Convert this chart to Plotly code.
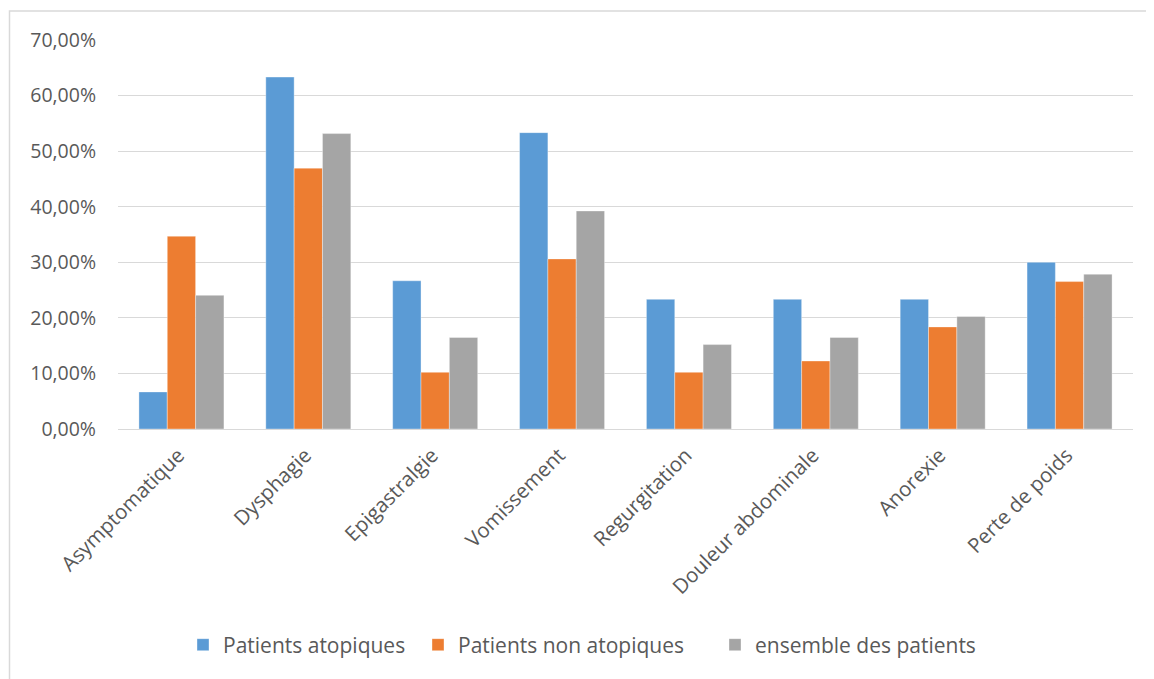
import plotly.graph_objects as go

categories = ["Asymptomatique", "Dysphagie", "Epigastralgie", "Vomissement",
              "Regurgitation", "Douleur abdominale", "Anorexie", "Perte de poids"]
atopiques = [0.0667, 0.6333, 0.2667, 0.5333, 0.2333, 0.2333, 0.2333, 0.3000]
non_atopiques = [0.3469, 0.4694, 0.1020, 0.3061, 0.1020, 0.1224, 0.1837, 0.2653]
ensemble = [0.2405, 0.5316, 0.1646, 0.3924, 0.1519, 0.1646, 0.2025, 0.2785]
series_names = ["Patients atopiques", "Patients non atopiques", "ensemble des patients"]
colors = ["#5B9BD5", "#ED7D31", "#A5A5A5"]

OFF = 8  # page body margin
W, H = 1154, 679
L, T = 118 - OFF, 40 - OFF
R = W - (1133 - OFF)
B = H - (429 - OFF)
pw, ph = W - L - R, H - T - B

legend_ids = ["legend", "legend2", "legend3"]
legend_text_x = [223, 458, 755]  # page x where legend text starts

fig = go.Figure()
for name, vals, col, lg in zip(series_names, [atopiques, non_atopiques, ensemble], colors, legend_ids):
    fig.add_trace(go.Bar(
        x=categories, y=vals, name=name, legend=lg,
        marker=dict(color=col, line=dict(color="rgba(255,255,255,0.6)", width=0.6)),
    ))

font = "Open Sans, Noto Sans, sans-serif"
legend_common = dict(orientation="h", xanchor="left", yanchor="middle",
                     y=-(645 - 429) / ph, font=dict(size=21, color="#595959"),
                     itemwidth=30, bgcolor="rgba(0,0,0,0)")
legends = {}
for lg, tx in zip(legend_ids, legend_text_x):
    legends[lg] = dict(legend_common, x=(tx - 40 - OFF - L) / pw)

fig.update_layout(
    width=W, height=H,
    margin=dict(l=L, r=R, t=T, b=B, autoexpand=False),
    paper_bgcolor="white", plot_bgcolor="white",
    separators=", ",
    barmode="group", bargap=0.33, bargroupgap=0,
    font=dict(family=font, size=18, color="#595959"),
    showlegend=True,
    xaxis=dict(tickangle=-45, showgrid=False, showline=True, linecolor="#D9D9D9",
               linewidth=1.3, ticks="", ticklabelshift=-3, ticklabelstandoff=5,
               tickfont=dict(size=20.5, color="#595959")),
    yaxis=dict(range=[0, 0.7], dtick=0.1, tickformat=".2%", showgrid=True,
               gridcolor="#D9D9D9", gridwidth=1.3, zeroline=False, showline=False,
               ticks="", ticklabelstandoff=21,
               tickfont=dict(size=19.5, color="#595959")),
    shapes=[dict(type="rect", xref="paper", yref="paper",
                 x0=(1.5 - L) / pw, x1=(W + 20 - L) / pw,
                 y0=-(H + 20 - 429) / ph, y1=1 + (40 - 11) / ph,
                 line=dict(color="#D9D9D9", width=1.5), fillcolor="rgba(0,0,0,0)",
                 layer="below")],
    **legends,
)

fig.write_html("out.html")
